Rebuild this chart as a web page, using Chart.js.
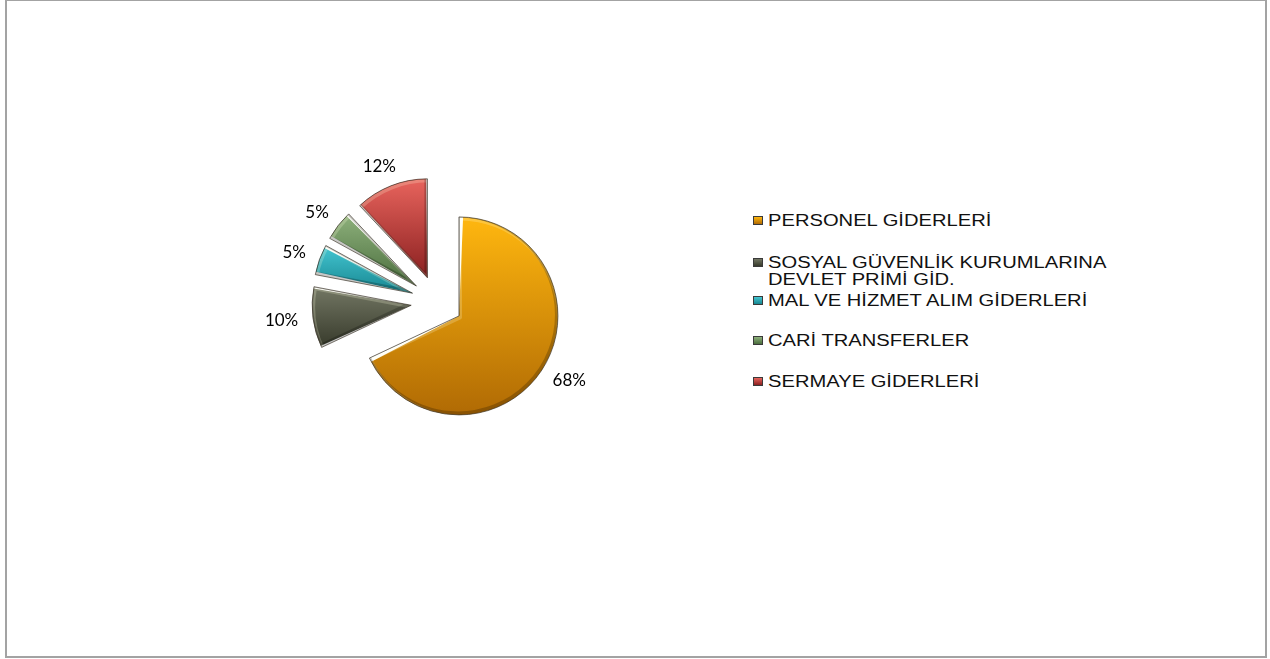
<!DOCTYPE html>
<html>
<head>
<meta charset="utf-8">
<script src="https://cdn.jsdelivr.net/npm/chart.js@4.4.1/dist/chart.umd.min.js"></script>
<style>
  html, body { margin: 0; padding: 0; background: #fff; }
  body { position: relative; width: 1270px; height: 659px; overflow: hidden; }
  #frame { position: absolute; left: 5px; top: 0; width: 1258px; height: 655px;
           border: 2px solid #a3a3a3; border-top-width: 1px; }
  #pieWrap { position: absolute; left: 187px; top: 52px; width: 500px; height: 500px; }
  .item { position: absolute; left: 753px; font: 16px "Liberation Sans", Arial, sans-serif;
          color: #111; line-height: 17px; }
  .box { position: absolute; left: 0; top: 4px; width: 10px; height: 9px;
         border: 1px solid #3a3a3a; box-sizing: border-box; }
  .txt { position: absolute; left: 15px; top: 0; width: 280px;
         transform: scaleX(1.26); transform-origin: 0 0; }
</style>
</head>
<body>
<div id="frame"></div>
<div id="pieWrap"><canvas id="pie"></canvas></div>
<div id="legend"></div>

<script>
// dağılım verisi (%)
const labels = [
  'PERSONEL GİDERLERİ',
  'SOSYAL GÜVENLİK KURUMLARINA DEVLET PRİMİ GİD.',
  'MAL VE HİZMET ALIM GİDERLERİ',
  'CARİ TRANSFERLER',
  'SERMAYE GİDERLERİ'
];
const values = [68, 10, 5, 5, 12];
const lightColors = ['#ffb70f', '#727663', '#44c6d2', '#8eb17c', '#e8645d'];
const darkColors  = ['#b06a04', '#373a2b', '#178690', '#4a6d3d', '#8a2020'];

const pieRadius = 99;   // görünen yarıçap
const explode = 26;     // dilimlerin dışa kayması (px)
const labelPad = 15;
const legendTops = [212, 254, 292, 332, 373];

const total = values.reduce((a, b) => a + b, 0);

// her dilim için dikey gradyan
function sliceFill(context) {
  const i = context.dataIndex;
  const area = context.chart.chartArea;
  if (!area) return darkColors[i];
  const cx = (area.left + area.right) / 2;
  const cy = (area.top + area.bottom) / 2;
  let start = -Math.PI / 2;
  for (let k = 0; k < i; k++) start += values[k] / total * Math.PI * 2;
  const end = start + values[i] / total * Math.PI * 2;
  let top = cy, bottom = cy;
  for (let a = start; a <= end + 0.001; a += 0.01) {
    const y = cy + Math.sin(a) * pieRadius;
    top = Math.min(top, y); bottom = Math.max(bottom, y);
  }
  const g = context.chart.ctx.createLinearGradient(0, top, 0, bottom);
  g.addColorStop(0, lightColors[i]);
  g.addColorStop(1, darkColors[i]);
  return g;
}

// Chart.js offset büyütür yarıçapı; hepsini aynı görünen yarıçapa çek
const fixRadius = {
  id: 'fixRadius',
  afterDatasetUpdate(chart) {
    chart.getDatasetMeta(0).data.forEach(arc => {
      const fix = 1 - Math.sin(Math.min(Math.PI, arc.circumference));
      arc.outerRadius = pieRadius - explode * fix;
    });
  }
};

function slicePath(ctx, arc, dx, dy) {
  const mid = (arc.startAngle + arc.endAngle) / 2;
  const x = arc.x + Math.cos(mid) * explode + dx;
  const y = arc.y + Math.sin(mid) * explode + dy;
  ctx.beginPath();
  ctx.moveTo(x, y);
  ctx.arc(x, y, pieRadius, arc.startAngle, arc.endAngle);
  ctx.closePath();
}

// kabartma (bevel) efekti
const bevel = {
  id: 'bevel',
  afterDatasetsDraw(chart) {
    const ctx = chart.ctx;
    chart.getDatasetMeta(0).data.forEach(arc => {
      ctx.save();
      slicePath(ctx, arc, 0, 0);
      ctx.clip();
      ctx.lineJoin = 'round';
      slicePath(ctx, arc, 1, 1.5);
      ctx.strokeStyle = 'rgba(255,255,225,0.22)';
      ctx.lineWidth = 4;
      ctx.stroke();
      slicePath(ctx, arc, -1, -1.5);
      ctx.strokeStyle = 'rgba(0,0,0,0.22)';
      ctx.lineWidth = 4;
      ctx.stroke();
      ctx.restore();
      ctx.save();
      slicePath(ctx, arc, 0, 0);
      ctx.strokeStyle = 'rgba(40,32,20,0.6)';
      ctx.lineWidth = 1;
      ctx.stroke();
      ctx.restore();
    });
  }
};

// yüzde etiketleri
const pctLabels = {
  id: 'pctLabels',
  afterDatasetsDraw(chart) {
    const ctx = chart.ctx;
    const area = chart.chartArea;
    const cx = (area.left + area.right) / 2;
    const cy = (area.top + area.bottom) / 2;
    ctx.save();
    ctx.font = '17px Lato, "Open Sans", sans-serif';
    ctx.fillStyle = '#000';
    ctx.textAlign = 'center';
    ctx.textBaseline = 'middle';
    chart.getDatasetMeta(0).data.forEach((arc, i) => {
      const mid = (arc.startAngle + arc.endAngle) / 2;
      const dx = Math.cos(mid), dy = Math.sin(mid);
      const txt = Math.round(values[i] / total * 100) + '%';
      const w = ctx.measureText(txt).width;
      const d = explode + pieRadius + labelPad;
      ctx.fillText(txt, cx + dx * d + dx * w / 2, cy + dy * d + dy * 6);
    });
    ctx.restore();
  }
};

new Chart(document.getElementById('pie'), {
  type: 'pie',
  data: {
    labels: labels,
    datasets: [{
      data: values,
      backgroundColor: sliceFill,
      borderWidth: 0,
      offset: explode * 4
    }]
  },
  options: {
    responsive: true,
    maintainAspectRatio: false,
    animation: false,
    radius: pieRadius,
    layout: { padding: 0 },
    plugins: { legend: { display: false }, tooltip: { enabled: false } }
  },
  plugins: [fixRadius, bevel, pctLabels]
});

// lejant
const legendEl = document.getElementById('legend');
labels.forEach((lab, i) => {
  const it = document.createElement('div');
  it.className = 'item';
  it.style.top = legendTops[i] + 'px';
  it.innerHTML = '<div class="box" style="background:linear-gradient(' + lightColors[i] + ',' + darkColors[i] + ')"></div>' +
                 '<div class="txt">' + lab + '</div>';
  legendEl.appendChild(it);
});
</script>
</body>
</html>
